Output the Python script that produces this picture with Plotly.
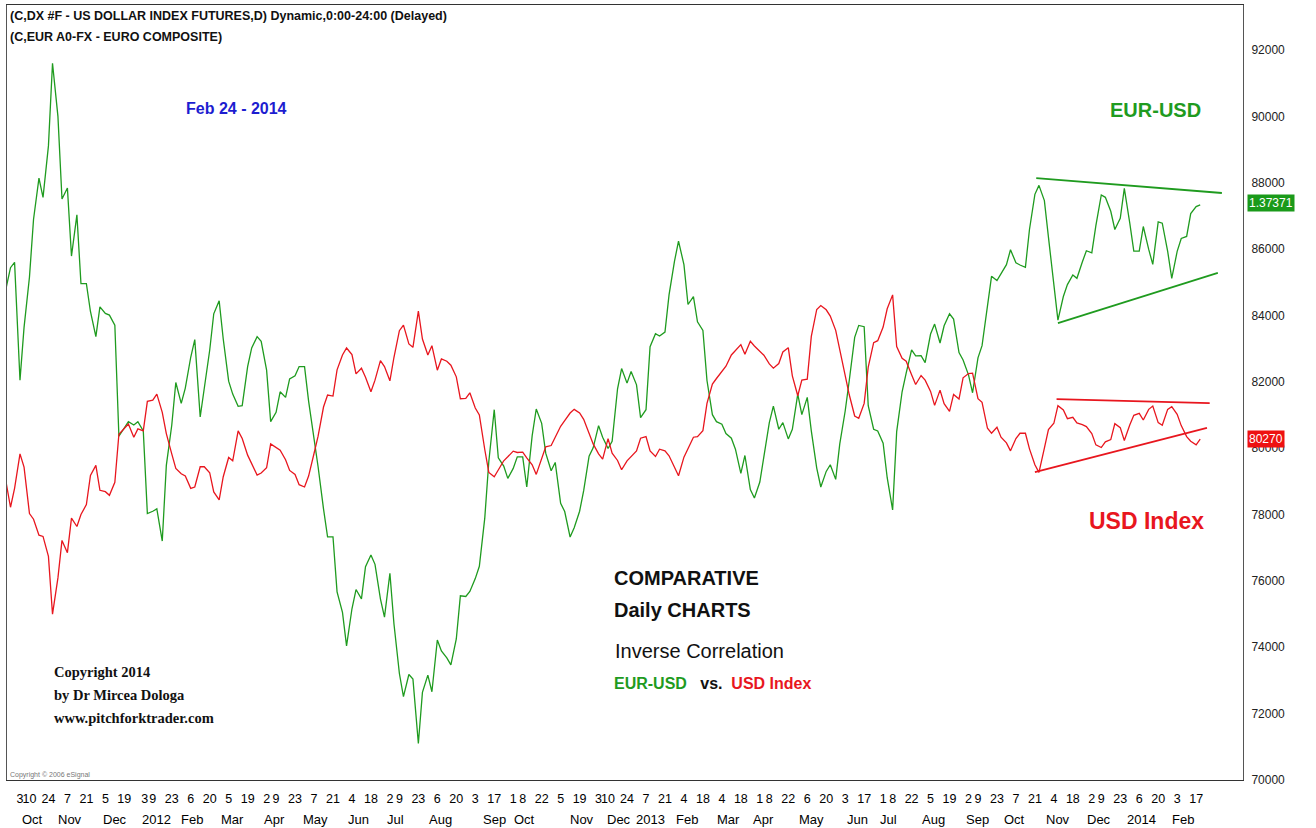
import pandas as pd
import plotly.graph_objects as go

# ---------------- data ----------------
# sample dates: every Monday and Thursday
mondays = pd.date_range("2011-09-26", "2014-02-17", freq="W-MON")
thursdays = pd.date_range("2011-09-22", "2014-02-20", freq="W-THU")
dates = mondays.union(thursdays)

eur_usd = [
    84680,
    85440, 85600, 82050, 83640, 85160, 86900, 88140, 87560, 89110, 91600,
    90000, 87510, 87840, 85790, 87030, 84960, 84960, 84120, 83360, 84260,
    84060, 84010, 83710, 80360, 80590, 80800, 80700, 80800, 80520, 78030,
    78100, 78170, 77200, 79480, 80690, 81980, 81350, 81810, 82740, 83270,
    80940, 81840, 82950, 84050, 84440, 83290, 82020, 81630, 81260, 81280,
    82460, 83020, 83360, 83220, 82350, 80800, 81080, 81700, 81530, 82090,
    82180, 82460, 82460, 81420, 80310, 79440, 78170, 77330, 77330, 75670,
    75050, 74040, 75160, 75740, 75460, 76430, 76780, 76500, 75460, 74910,
    76230, 74700, 73210, 72510, 73180, 73040, 71100, 72640, 73160, 72660,
    74220, 73890, 73680, 73470, 74250, 75550, 75530, 75680, 76070, 76440,
    77890, 79600, 81160, 79710, 79460, 79090, 79390, 79740, 79740, 78830,
    80380, 81180, 80750, 79850, 79320, 79570, 78340, 78090, 77320, 77600,
    78100, 78720, 79760, 80010, 80680, 80330, 79990, 80210, 81790, 82400,
    81960, 82310, 81910, 80920, 81160, 83060, 83450, 83380, 83500, 84620,
    85630, 86240, 85530, 84330, 84570, 83810, 83550, 82040, 81010, 80800,
    80720, 80440, 80300, 79970, 79240, 79780, 78750, 78500, 78980, 79740,
    80770, 81270, 80570, 80770, 80280, 80570, 81630, 81010, 81530, 80520,
    79400, 78830, 79300, 79500, 79060, 80130, 81120, 82040, 83340, 83700,
    83660, 81280, 80570, 80520, 80150, 79110, 78140, 80500, 81700, 82260,
    82960, 82780, 82790, 82580, 83440, 83740, 83170, 83690, 84050, 83890,
    82880, 82660, 82210, 81670, 82720, 83090, 84360, 85180, 85050, 85250,
    85530, 85980, 85590, 85520, 85450, 86590, 87650, 87920, 87460, 86360,
    85010, 83860, 84570, 84930, 85220, 85120, 85610, 85950, 85890, 86710,
    87630, 87560, 87140, 86590, 86930, 87830, 86790, 85940, 85940, 86680,
    85990, 85540, 86820, 86780, 85930, 85120, 85930, 86320, 86380, 87070,
    87280, 87330,
]

usd_index = [
    79140,
    78220, 78790, 79830, 79430, 78030, 77860, 77380, 77340, 76740, 75000,
    76090, 77220, 76850, 77890, 77640, 78000, 78300, 79180, 79480, 78730,
    78690, 78580, 78970, 80420, 80580, 80730, 80330, 80580, 80520, 81410,
    81450, 81630, 81080, 80440, 79830, 79390, 79230, 79160, 78790, 78830,
    79440, 79440, 79260, 78680, 78440, 79140, 79720, 79620, 80520, 80290,
    79790, 79550, 79190, 79250, 79410, 80130, 80020, 79940, 79650, 79330,
    79210, 78900, 78830, 79160, 79840, 80360, 81240, 81600, 81570, 82360,
    82810, 83020, 82820, 82240, 82410, 82140, 81700, 82050, 82640, 82460,
    82030, 82740, 83540, 83710, 83140, 83040, 84130, 83290, 82810, 83090,
    82350, 82690, 82620, 82500, 82150, 81490, 81500, 81670, 81210, 81000,
    79960, 79270, 79140, 79350, 79620, 79740, 79910, 79870, 79880, 79710,
    79500, 79210, 79710, 80040, 80080, 80340, 80660, 80830, 81060, 81170,
    81060, 80870, 80420, 80130, 79830, 79670, 80290, 79850, 79630, 79350,
    79620, 79740, 79920, 80300, 80350, 79920, 79750, 79970, 79920, 79770,
    79400, 79170, 79730, 79980, 80330, 80350, 80530, 81350, 81930, 82100,
    82310, 82470, 82810, 82930, 83120, 82830, 83220, 83080, 82930, 82800,
    82540, 82410, 82550, 82900, 83030, 82180, 81580, 82050, 82080, 83370,
    84180, 84300, 84170, 83980, 83550, 82970, 82290, 81610, 80970, 80900,
    81350, 82440, 83180, 83240, 83650, 84200, 84620, 83060, 82710, 82620,
    82210, 81920, 82190, 82050, 81710, 81290, 81750, 81340, 81110, 81620,
    81480, 82120, 82250, 82260, 81490, 81380, 80600, 80450, 80630, 80330,
    80160, 79920, 80290, 80450, 80450, 79980, 79500, 79270, 80000, 80560,
    80750, 81280, 81150, 80890, 80930, 80760, 80710, 80650, 80440, 80100,
    80020, 80190, 80260, 80740, 80620, 80230, 80700, 80990, 81050, 80850,
    81170, 81270, 80770, 80690, 81170, 81250, 81020, 80680, 80350, 80210,
    80100, 80270,
]

# triangle trend lines drawn on the chart
eur_top_dates = ["2013-10-22", "2014-03-08"]
eur_top_values = [88140, 87690]
eur_bottom_dates = ["2013-11-07", "2014-03-05"]
eur_bottom_values = [83770, 85280]
usd_top_dates = ["2013-11-06", "2014-02-27"]
usd_top_values = [81480, 81360]
usd_bottom_dates = ["2013-10-21", "2014-02-25"]
usd_bottom_values = [79280, 80610]

# x-axis tick labels (day of month) and month row
tick_dates = [
    "2011-10-03", "2011-10-10", "2011-10-24", "2011-11-07", "2011-11-21", "2011-12-05", "2011-12-19",
    "2012-01-03", "2012-01-09", "2012-01-23", "2012-02-06", "2012-02-20", "2012-03-05", "2012-03-19",
    "2012-04-02", "2012-04-09", "2012-04-23", "2012-05-07", "2012-05-21", "2012-06-04", "2012-06-18",
    "2012-07-02", "2012-07-09", "2012-07-23", "2012-08-06", "2012-08-20", "2012-09-03", "2012-09-17",
    "2012-10-01", "2012-10-08", "2012-10-22", "2012-11-05", "2012-11-19", "2012-12-03", "2012-12-10",
    "2012-12-24", "2013-01-07", "2013-01-21", "2013-02-04", "2013-02-18", "2013-03-04", "2013-03-18",
    "2013-04-01", "2013-04-08", "2013-04-22", "2013-05-06", "2013-05-20", "2013-06-03", "2013-06-17",
    "2013-07-01", "2013-07-08", "2013-07-22", "2013-08-05", "2013-08-19", "2013-09-02", "2013-09-09",
    "2013-09-23", "2013-10-07", "2013-10-21", "2013-11-04", "2013-11-18", "2013-12-02", "2013-12-09",
    "2013-12-23", "2014-01-06", "2014-01-20", "2014-02-03", "2014-02-17",
]
tick_days = [str(pd.Timestamp(d).day) for d in tick_dates]

month_dates = [
    "2011-10-12", "2011-11-09", "2011-12-12", "2012-01-12", "2012-02-07", "2012-03-08", "2012-04-08",
    "2012-05-08", "2012-06-09", "2012-07-06", "2012-08-08", "2012-09-17", "2012-10-09", "2012-11-21",
    "2012-12-18", "2013-01-10", "2013-02-06", "2013-03-09", "2013-04-04", "2013-05-09", "2013-06-12",
    "2013-07-05", "2013-08-07", "2013-09-09", "2013-10-06", "2013-11-07", "2013-12-07", "2014-01-08",
    "2014-02-07",
]
month_labels = [
    "Oct", "Nov", "Dec", "2012", "Feb", "Mar", "Apr", "May", "Jun", "Jul", "Aug", "Sep", "Oct", "Nov",
    "Dec", "2013", "Feb", "Mar", "Apr", "May", "Jun", "Jul", "Aug", "Sep", "Oct", "Nov", "Dec", "2014",
    "Feb",
]

y_ticks = list(range(70000, 92001, 2000))

assert len(dates) == len(eur_usd) == len(usd_index), (len(dates), len(eur_usd), len(usd_index))

# ---------------- styling ----------------
GREEN = "#1f9b1f"
RED = "#e8161e"
SANS = "Liberation Sans, Arial, sans-serif"
SERIF = "Liberation Serif, Times New Roman, serif"

W, H = 1316, 828
L, R, T, B = 7, 73, 5, 48
PW, PH = W - L - R, H - T - B


def px(x):
    return (x - L) / PW


def py(y):
    return (H - B - y) / PH


fig = go.Figure()
fig.add_trace(go.Scatter(x=dates, y=eur_usd, mode="lines", line=dict(color=GREEN, width=1.3),
                         hoverinfo="skip", showlegend=False))
fig.add_trace(go.Scatter(x=dates, y=usd_index, mode="lines", line=dict(color=RED, width=1.3),
                         hoverinfo="skip", showlegend=False))
for xs, ys, c in [
    (eur_top_dates, eur_top_values, GREEN),
    (eur_bottom_dates, eur_bottom_values, GREEN),
    (usd_top_dates, usd_top_values, RED),
    (usd_bottom_dates, usd_bottom_values, RED),
]:
    fig.add_trace(go.Scatter(x=xs, y=ys, mode="lines", line=dict(color=c, width=1.8),
                             hoverinfo="skip", showlegend=False))

fig.update_layout(
    width=W, height=H,
    margin=dict(l=L, r=R, t=T, b=B),
    paper_bgcolor="white", plot_bgcolor="white",
    showlegend=False,
)
fig.update_xaxes(
    type="date",
    range=["2011-09-23 10:00", "2014-03-23 14:00"],
    tickmode="array", tickvals=tick_dates, ticktext=tick_days, tickangle=0,
    tickfont=dict(family=SANS, size=12.5, color="#000000"),
    ticks="", ticklabelstandoff=7,
    showgrid=False, zeroline=False,
    showline=True, linecolor="#333333", linewidth=1, mirror=True,
)
fig.update_yaxes(
    side="right",
    range=[70000, 93356],
    tickmode="array", tickvals=y_ticks, ticktext=[str(v) for v in y_ticks],
    tickfont=dict(family=SANS, size=12, color="#222222"),
    ticks="", ticklabelstandoff=5,
    showgrid=False, zeroline=False,
    showline=True, linecolor="#555555", linewidth=1, mirror=True,
)

annotations = []
for d, lab in zip(month_dates, month_labels):
    annotations.append(dict(x=d, xref="x", y=py(820), yref="paper", text=lab, showarrow=False,
                            xanchor="center", yanchor="middle",
                            font=dict(family=SANS, size=13, color="#000000")))


def text(x, y, s, size, color="#111111", family=SANS, anchor="left"):
    annotations.append(dict(x=px(x), y=py(y), xref="paper", yref="paper", text=s, showarrow=False,
                            xanchor=anchor, yanchor="middle", font=dict(family=family, size=size, color=color)))


text(8, 16, "<b>(C,DX #F - US DOLLAR INDEX FUTURES,D) Dynamic,0:00-24:00 (Delayed)</b>", 12.5)
text(8, 37, "<b>(C,EUR A0-FX - EURO COMPOSITE)</b>", 12.5)
text(236, 109, "<b>Feb 24 - 2014</b>", 16, color="#1d1dd0", anchor="center")
text(1155, 110, "<b>EUR-USD</b>", 20, color=GREEN, anchor="center")
text(1146, 521, "<b>USD Index</b>", 23, color=RED, anchor="center")
text(612, 578, "<b>COMPARATIVE</b>", 20)
text(612, 610, "<b>Daily CHARTS</b>", 20)
text(613, 651, "Inverse Correlation", 20)
text(612, 683, f"<b><span style='color:{GREEN}'>EUR-USD</span>   vs.  "
               f"<span style='color:{RED}'>USD Index</span></b>", 16)
text(52, 672, "<b>Copyright 2014</b>", 14.5, family=SERIF)
text(52, 695, "<b>by Dr Mircea Dologa</b>", 14.5, family=SERIF)
text(52, 718, "<b>www.pitchforktrader.com</b>", 14.5, family=SERIF)
text(8, 775, "Copyright © 2006 eSignal", 7, color="#777777")

# last-value boxes on the right axis
annotations.append(dict(x=px(1247), y=eur_usd[-1] + 60, xref="paper", yref="y", text="1.37371",
                        showarrow=False, xanchor="left", yanchor="middle", bgcolor="#1a9a1a",
                        borderpad=1, font=dict(family=SANS, size=12, color="white")))
annotations.append(dict(x=px(1247), y=usd_index[-1], xref="paper", yref="y", text="80270",
                        showarrow=False, xanchor="left", yanchor="middle", bgcolor="#ee1111",
                        borderpad=1, font=dict(family=SANS, size=12, color="white")))

fig.update_layout(annotations=annotations)
fig.write_html("out.html", config={"displayModeBar": False},
               post_script="document.body.style.margin='0';document.body.style.overflow='hidden';")
